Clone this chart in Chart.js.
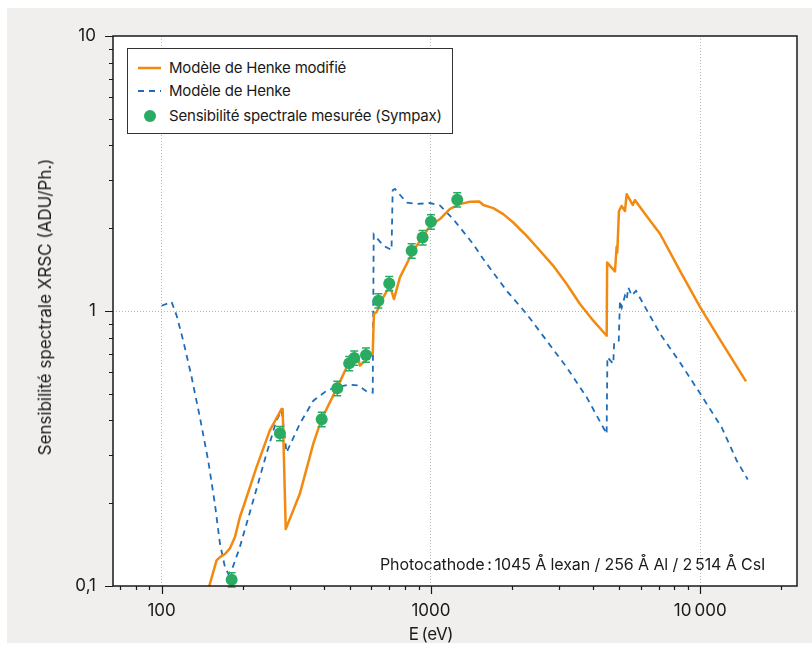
<!DOCTYPE html>
<html>
<head>
<meta charset="utf-8">
<script src="https://cdn.jsdelivr.net/npm/chart.js@4.4.1/dist/chart.umd.min.js"></script>
<style>
  body { margin: 0; background: #fff; font-family: Inter, "Noto Sans", sans-serif; color: #1a1a1a; }
  #wrap { position: relative; width: 812px; height: 645px; }
  #chart { position: absolute; left: 0; top: 0; }
  .legend { position: absolute; left: 127px; top: 48px; width: 326px; height: 86px; box-sizing: border-box;
            border: 1px solid #333; background: #fff; font-size: 15px; letter-spacing: -0.2px; }
  .legend .row { position: absolute; left: 0; height: 20px; line-height: 20px; white-space: nowrap; }
  .legend svg { position: absolute; left: 10px; top: 0; }
  .legend span { position: absolute; left: 41px; top: 0; }
  .note { position: absolute; left: 380px; top: 554px; font-size: 16px; letter-spacing: -0.1px; white-space: nowrap; }
  .ytitle { position: absolute; left: 45px; top: 307px; transform: translate(-50%, -50%) rotate(-90deg);
            font-size: 17px; letter-spacing: 0; white-space: nowrap; }
  .xtitle { position: absolute; left: 431px; top: 634px; transform: translate(-50%, -50%);
            font-size: 17px; letter-spacing: -0.3px; white-space: nowrap; }
</style>
</head>
<body>
<div id="wrap">
  <canvas id="chart" width="812" height="645"></canvas>
  <div class="legend">
    <div class="row" style="top:9px; width:320px">
      <svg width="26" height="20"><line x1="0" y1="10" x2="23" y2="10" stroke="#f28a10" stroke-width="2.5"/></svg>
      <span>Modèle de Henke modifié</span>
    </div>
    <div class="row" style="top:32px; width:320px">
      <svg width="26" height="20"><line x1="0" y1="10" x2="23" y2="10" stroke="#1f6db8" stroke-width="1.8" stroke-dasharray="6 5"/></svg>
      <span>Modèle de Henke</span>
    </div>
    <div class="row" style="top:57px; width:320px">
      <svg width="26" height="20"><circle cx="12" cy="10" r="6" fill="#2aab62"/></svg>
      <span>Sensibilité spectrale mesurée (Sympax)</span>
    </div>
  </div>
  <div class="note">Photocathode&#8239;:&#8239;1045 Å lexan / 256 Å Al / 2&#8239;514 Å CsI</div>
  <div class="ytitle">Sensibilité spectrale XRSC (ADU/Ph.)</div>
  <div class="xtitle">E&#8239;(eV)</div>
</div>
<script>
// Modèle de Henke modifié
const henkeModE = [145, 150.3, 160, 164.7, 171.9, 179.3, 187.2, 195.4, 201, 225, 252, 279, 281.5, 289, 326, 366,
  393, 446, 493, 500, 537, 545, 556, 603, 608, 614, 628, 665, 704, 729, 767, 860, 992, 1080, 1177, 1281, 1396,
  1512, 1564, 1704, 1856, 2021, 2267, 2541, 2846, 3191, 3575, 4006, 4492, 4510, 4822, 4891, 4918, 4989, 5105,
  5253, 5329, 5612, 5723, 6300, 7096, 8408, 10000, 11834, 14780];
const henkeModS = [0.085, 0.1, 0.124, 0.1274, 0.1307, 0.137, 0.1506, 0.1786, 0.1934, 0.27, 0.3675, 0.4406, 0.44,
  0.161, 0.2164, 0.33, 0.405, 0.521, 0.642, 0.66, 0.678, 0.633, 0.645, 0.698, 0.70, 0.975, 0.99, 1.12, 1.236,
  1.105, 1.325, 1.656, 2.04, 2.16, 2.35, 2.447, 2.495, 2.50, 2.43, 2.366, 2.25, 2.098, 1.877, 1.656, 1.46,
  1.253, 1.06, 0.922, 0.813, 1.50, 1.393, 1.713, 1.63, 2.31, 2.41, 2.31, 2.66, 2.43, 2.53, 2.225, 1.905, 1.40,
  1.03, 0.787, 0.555];

// Modèle de Henke
const henkeE = [100, 108.9, 113.7, 120.3, 129.3, 138.7, 148.9, 157.7, 164.7, 171.9, 176.9, 182, 195, 219, 245,
  267, 279, 291, 326, 366, 410, 446, 500, 537, 577, 608, 613, 665, 714, 721, 735, 812, 885, 992, 1080, 1209,
  1436, 1564, 1910, 2267, 2689, 3191, 3785, 4428, 4490, 4520, 4753, 4790, 4980, 5032, 5110, 5253, 5330, 5406,
  5565, 5772, 7096, 8408, 10000, 12000, 13650, 15000];
const henkeS = [1.045, 1.08, 0.962, 0.78, 0.574, 0.411, 0.286, 0.199, 0.1424, 0.117, 0.1107, 0.114, 0.138,
  0.205, 0.302, 0.40, 0.435, 0.306, 0.389, 0.472, 0.513, 0.528, 0.54, 0.536, 0.51, 0.505, 1.9, 1.73, 1.666,
  2.75, 2.78, 2.48, 2.45, 2.47, 2.42, 2.16, 1.75, 1.545, 1.185, 0.975, 0.78, 0.624, 0.486, 0.367, 0.357, 0.68,
  0.642, 0.77, 0.78, 1.09, 1.03, 1.137, 1.10, 1.218, 1.137, 1.185, 0.825, 0.65, 0.50, 0.378, 0.286, 0.244];

// Sensibilité spectrale mesurée (Sympax)
const measE = [182, 275, 393, 449, 497, 519, 574, 638, 700, 848, 931, 1000, 1252];
const measS = [0.1054, 0.359, 0.404, 0.5235, 0.645, 0.675, 0.692, 1.09, 1.26, 1.656, 1.85, 2.11, 2.54];
const measErr = [0.06, 0.06, 0.06, 0.06, 0.06, 0.06, 0.06, 0.06, 0.06, 0.06, 0.06, 0.06, 0.06];

const xTicks = [70, 80, 90, 100, 200, 300, 400, 500, 600, 700, 800, 900, 1000, 2000, 3000, 4000, 5000,
  6000, 7000, 8000, 9000, 10000, 20000];
const xMajor = [100, 1000, 10000];
const xMajorLabels = ['100', '1000', '10\u202f000'];
const yTicks = [0.1, 0.2, 0.3, 0.4, 0.5, 0.6, 0.7, 0.8, 0.9, 1, 2, 3, 4, 5, 6, 7, 8, 9, 10];
const yMajor = [0.1, 1, 10];
const yMajorLabels = ['0,1', '1', '10'];

const ORANGE = '#f28a10';
const BLUE = '#1f6db8';
const GREEN = '#2aab62';

function pairs(xs, ys) {
  return xs.map((x, i) => ({ x: x, y: ys[i] }));
}

const backdrop = {
  id: 'backdrop',
  beforeDraw(chart) {
    const ctx = chart.ctx, a = chart.chartArea;
    ctx.save();
    ctx.fillStyle = '#fff';
    ctx.fillRect(0, 0, chart.width, chart.height);
    ctx.fillStyle = '#f0efed';
    ctx.fillRect(7, 8, chart.width - 7, chart.height - 10);
    ctx.fillStyle = '#fff';
    ctx.fillRect(a.left, a.top, a.right - a.left, a.bottom - a.top);
    ctx.restore();
  }
};

// error bars under the measured points
const errorBars = {
  id: 'errorBars',
  beforeDatasetDraw(chart, args) {
    if (args.index !== 0) return;
    const ctx = chart.ctx, xs = chart.scales.x, ys = chart.scales.y;
    ctx.save();
    ctx.strokeStyle = GREEN;
    ctx.lineWidth = 1.5;
    measE.forEach((e, i) => {
      const px = xs.getPixelForValue(e);
      const y1 = ys.getPixelForValue(measS[i] * (1 + measErr[i]));
      const y2 = ys.getPixelForValue(measS[i] * (1 - measErr[i]));
      ctx.beginPath();
      ctx.moveTo(px, y1); ctx.lineTo(px, y2);
      ctx.moveTo(px - 4, y1); ctx.lineTo(px + 4, y1);
      ctx.moveTo(px - 4, y2); ctx.lineTo(px + 4, y2);
      ctx.stroke();
    });
    ctx.restore();
  }
};

// frame and outward tick marks (long for decades, short for the others)
const frameTicks = {
  id: 'frameTicks',
  afterDraw(chart) {
    const ctx = chart.ctx, a = chart.chartArea, xs = chart.scales.x, ys = chart.scales.y;
    ctx.save();
    ctx.strokeStyle = '#1a1a1a';
    ctx.lineWidth = 1.5;
    ctx.strokeRect(a.left, a.top, a.right - a.left, a.bottom - a.top);
    ctx.lineWidth = 1.2;
    ctx.beginPath();
    xTicks.forEach(v => {
      const px = Math.round(xs.getPixelForValue(v)) + 0.5;
      const len = xMajor.includes(v) ? 8 : 4;
      ctx.moveTo(px, a.bottom); ctx.lineTo(px, a.bottom + len);
    });
    yTicks.forEach(v => {
      const py = Math.round(ys.getPixelForValue(v)) + 0.5;
      const len = yMajor.includes(v) ? 8 : 4;
      ctx.moveTo(a.left, py); ctx.lineTo(a.left - len, py);
    });
    ctx.stroke();
    ctx.restore();
  }
};

Chart.defaults.font.family = 'Inter, "Noto Sans", sans-serif';
Chart.defaults.color = '#1a1a1a';

new Chart(document.getElementById('chart'), {
  type: 'scatter',
  data: {
    datasets: [{
      label: 'Sensibilité spectrale mesurée (Sympax)',
      data: pairs(measE, measS),
      backgroundColor: GREEN,
      borderColor: GREEN,
      pointRadius: 6,
      pointBorderWidth: 0
    }, {
      label: 'Modèle de Henke modifié',
      data: pairs(henkeModE, henkeModS),
      showLine: true,
      borderColor: ORANGE,
      borderWidth: 2.5,
      borderJoinStyle: 'round',
      pointRadius: 0,
      tension: 0
    }, {
      label: 'Modèle de Henke',
      data: pairs(henkeE, henkeS),
      showLine: true,
      borderColor: BLUE,
      borderWidth: 1.8,
      borderDash: [6, 5],
      pointRadius: 0,
      tension: 0
    }]
  },
  options: {
    responsive: false,
    animation: false,
    events: [],
    layout: { padding: { top: 36, right: 15, left: 0, bottom: 0 } },
    plugins: { legend: { display: false }, tooltip: { enabled: false } },
    scales: {
      x: {
        type: 'logarithmic',
        min: 66,
        max: 22860,
        afterBuildTicks: s => { s.ticks = xTicks.map(v => ({ value: v })); },
        afterFit: s => { s.height = 59; },
        grid: {
          drawTicks: false,
          color: c => (c.tick && xMajor.includes(c.tick.value)) ? '#b8b8b8' : 'rgba(0,0,0,0)',
          lineWidth: 1,
          borderDash: [1, 2]
        },
        border: { display: false, dash: [1, 2] },
        ticks: {
          autoSkip: false,
          maxRotation: 0,
          padding: 15,
          font: { size: 17 },
          callback: v => { const i = xMajor.indexOf(v); return i >= 0 ? xMajorLabels[i] : ''; }
        }
      },
      y: {
        type: 'logarithmic',
        min: 0.1,
        max: 10,
        afterBuildTicks: s => { s.ticks = yTicks.map(v => ({ value: v })); },
        afterFit: s => { s.width = 113; },
        grid: {
          drawTicks: false,
          color: c => (c.tick && c.tick.value === 1) ? '#b8b8b8' : 'rgba(0,0,0,0)',
          lineWidth: 1,
          borderDash: [1, 2]
        },
        border: { display: false, dash: [1, 2] },
        ticks: {
          autoSkip: false,
          padding: 17,
          font: { size: 17 },
          callback: v => { const i = yMajor.indexOf(v); return i >= 0 ? yMajorLabels[i] : ''; }
        }
      }
    }
  },
  plugins: [backdrop, errorBars, frameTicks]
});
</script>
</body>
</html>
